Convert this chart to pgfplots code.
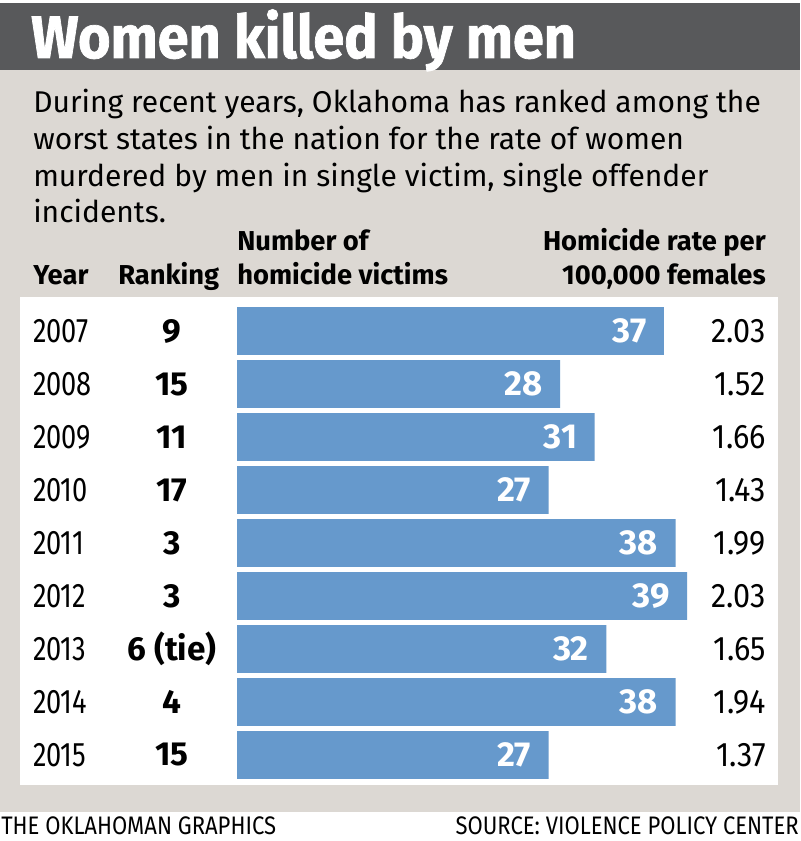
\documentclass[border=0pt]{standalone}
\usepackage{pgfplots}
\pgfplotsset{compat=1.18}
\usepackage{pgfplotstable}
\usepackage{fontspec}
\setmainfont{Fira Sans}
\newfontfamily\titlefont{Fira Sans}[FakeStretch=0.93, FakeBold=1.2]
\newfontfamily\numfont{Fira Sans}[FakeStretch=0.8]
\newfontfamily\ratefont{Fira Sans}[FakeStretch=0.9]
\newfontfamily\footfont{Fira Sans}[FakeStretch=0.87]

\definecolor{titlebar}{HTML}{58595B}
\definecolor{panelbg}{HTML}{DCD8D3}
\definecolor{barblue}{HTML}{6699CC}

% year, ranking, number of victims, rate per 100,000 females
\pgfplotstableread[col sep=comma]{
idx,year,rank,n,rate
0,2007,9,37,2.03
1,2008,15,28,1.52
2,2009,11,31,1.66
3,2010,17,27,1.43
4,2011,3,38,1.99
5,2012,3,39,2.03
6,2013,6 (tie),32,1.65
7,2014,4,38,1.94
8,2015,15,27,1.37
}\homicides

\begin{document}
\begin{tikzpicture}
	% background panels, measured in pixels of the reference
	\begin{scope}[x=0.75pt, y=-0.75pt]
		\fill[white] (0,0) rectangle (800,841);
		\fill[titlebar] (0,3) rectangle (800,70);
		\fill[panelbg] (0,70) rectangle (800,812);
		\fill[white] (20,297) rectangle (778,785);
		% title and intro
		\node[anchor=base west, white, inner sep=0, font=\titlefont\fontsize{45}{45}\selectfont\bfseries] at (31,58) {Women killed by men};
		\begin{scope}[every node/.style={anchor=base west, inner sep=0, font=\fontsize{22.5}{23}\selectfont}]
			\node at (33,113) {During recent years, Oklahoma has ranked among the};
			\node at (33,150) {worst states in the nation for the rate of women};
			\node at (33,187) {murdered by men in single victim, single offender};
			\node at (33,223) {incidents.};
		\end{scope}
		% column heads
		\begin{scope}[every node/.style={inner sep=0, font=\fontsize{20.5}{21}\selectfont\bfseries}]
			\node[anchor=base west] at (33,285) {Year};
			\node[anchor=base west] at (118,285) {Ranking};
			\node[anchor=base west] at (237,251) {Number of};
			\node[anchor=base west] at (237,285) {homicide victims};
			\node[anchor=base east] at (766,251) {Homicide rate per};
			\node[anchor=base east] at (766,285) {100,000 females};
		\end{scope}
		% footer
		\begin{scope}[every node/.style={inner sep=0, font=\footfont\fontsize{19}{19}\selectfont}]
			\node[anchor=base west] at (1,834) {THE OKLAHOMAN GRAPHICS};
			\node[anchor=base east] at (799,834) {SOURCE: VIOLENCE POLICY CENTER};
		\end{scope}
	\end{scope}

	\begin{axis}[
		at={(177.75pt,-586.125pt)},
		anchor=south west,
		scale only axis,
		width=346.2pt,
		height=357.75pt,
		xmin=0, xmax=40,
		ymin=-0.5, ymax=8.5,
		y dir=reverse,
		hide axis,
		clip=false,
		/pgf/number format/assume math mode=true,
		]
		% bars with values inside
		\addplot[xbar, fill=barblue, draw=none, bar width=0.905,
			nodes near coords,
			nodes near coords style={anchor=east, white, inner sep=0, xshift=-13pt,
				font=\fontsize{26}{26}\selectfont\bfseries}]
			table[x=n, y=idx] {\homicides};
		% year column
		\addplot[draw=none, nodes near coords, point meta=explicit symbolic,
			nodes near coords style={anchor=west, inner sep=0, font=\numfont\fontsize{25.5}{26}\selectfont}]
			table[x expr=-17.7, y=idx, meta=year] {\homicides};
		% ranking column
		\addplot[draw=none, nodes near coords, point meta=explicit symbolic,
			nodes near coords style={anchor=center, inner sep=0, font=\fontsize{25}{26}\selectfont\bfseries}]
			table[x expr=-5.63, y=idx, meta=rank] {\homicides};
		% rate column
		\addplot[draw=none, nodes near coords, point meta=explicit symbolic,
			nodes near coords style={anchor=east, inner sep=0, font=\ratefont\fontsize{25.5}{26}\selectfont}]
			table[x expr=45.84, y=idx, meta=rate] {\homicides};
	\end{axis}
\end{tikzpicture}
\end{document}
